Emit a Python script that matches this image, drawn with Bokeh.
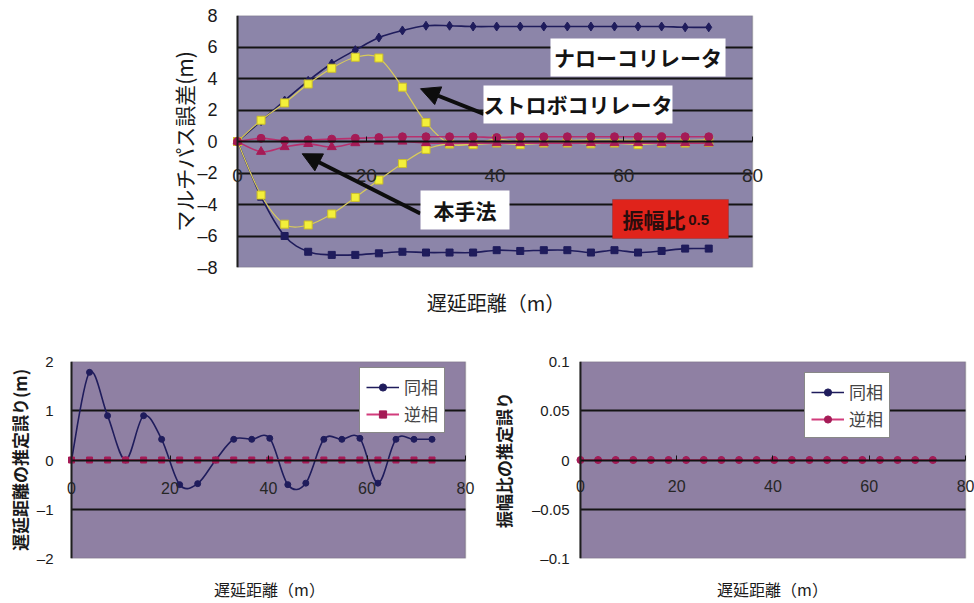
from bokeh.plotting import figure
from bokeh.models import (ColumnDataSource, FixedTicker, Arrow, NormalHead, BoxAnnotation,
                          Label, Legend, LegendItem, Spacer, Range1d, LinearAxis, Span)
from bokeh.layouts import column, row
from bokeh.embed import file_html
from bokeh.resources import INLINE

# ---- data -------------------------------------------------------------
# delay distance (m), step of 1/80 chip
delay_m = [0.0, 3.66, 7.32, 10.98, 14.64, 18.3, 21.96, 25.62, 29.28, 32.94, 36.6,
           40.26, 43.92, 47.58, 51.24, 54.9, 58.56, 62.22, 65.88, 69.54, 73.2]

# multipath error (m), amplitude ratio 0.5
narrow_pos = [0, 1.3, 2.6, 3.85, 4.95, 5.8, 6.6, 7.05, 7.35, 7.35, 7.3,
              7.3, 7.3, 7.3, 7.3, 7.3, 7.3, 7.3, 7.3, 7.25, 7.25]
narrow_neg = [0, -3.5, -6.0, -7.0, -7.2, -7.2, -7.1, -7.0, -7.05, -7.05, -7.05,
              -6.9, -6.95, -6.9, -6.9, -7.05, -6.9, -7.05, -6.95, -6.8, -6.8]
strobe_pos = [0, 1.35, 2.45, 3.65, 4.65, 5.35, 5.3, 3.45, 1.2, -0.15, -0.15,
              0.15, -0.05, 0.0, 0.05, 0.1, 0.1, 0.05, 0.0, 0.05, 0.1]
strobe_neg = [0, -3.4, -5.25, -5.3, -4.6, -3.55, -2.45, -1.4, -0.5, -0.15, -0.2,
              -0.1, -0.2, -0.1, -0.1, -0.15, -0.1, -0.2, -0.1, -0.1, -0.05]
method_pos = [0, 0.2, 0.05, 0.1, 0.15, 0.2, 0.25, 0.3, 0.3, 0.3, 0.3,
              0.25, 0.3, 0.3, 0.3, 0.3, 0.3, 0.3, 0.3, 0.3, 0.3]
method_neg = [0, -0.65, -0.35, -0.15, -0.35, -0.1, 0.0, 0.0, -0.1, -0.1, -0.1,
              -0.1, -0.1, -0.1, -0.1, -0.1, -0.1, -0.1, -0.1, -0.1, -0.1]

# estimation error of delay distance (m)
delay_err_inphase = [0, 1.78, 0.9, 0.0, 0.9, 0.42, -0.5, -0.48, 0.0, 0.42, 0.42,
                     0.44, -0.5, -0.47, 0.42, 0.42, 0.44, -0.47, 0.42, 0.42, 0.42]
delay_err_antiphase = [0] * 21

# estimation error of amplitude ratio
amp_err_inphase = [0] * 21
amp_err_antiphase = [0] * 21

top_yticks = [-8, -6, -4, -2, 0, 2, 4, 6, 8]
xticks = [0, 20, 40, 60, 80]
bl_yticks = [-2, -1, 0, 1, 2]
br_yticks = [-0.1, -0.05, 0, 0.05, 0.1]

# ---- styling ----------------------------------------------------------
TOP_BG = "#8c85a9"
BOT_BG = "#8f80a3"
NAVY = "#1f1c5c"
YELLOW = "#f3ef3a"
YELLOW_LINE = "#d9cb5a"
CRIMSON = "#a51b56"
CRIMSON_LINE = "#b8306e"
PINK_LINE = "#d23c7c"
JP = "Noto Sans CJK JP"
NUM = "Liberation Sans"
DASH = "\u2013"


def smooth_source(xs, ys):
    """Cubic Bezier segments through the points (Catmull-Rom style smoothing)."""
    n = len(xs)
    d = dict(x0=[], y0=[], x1=[], y1=[], cx0=[], cy0=[], cx1=[], cy1=[])
    for i in range(n - 1):
        xp, yp = (xs[i - 1], ys[i - 1]) if i > 0 else (xs[i], ys[i])
        xn, yn = (xs[i + 2], ys[i + 2]) if i + 2 < n else (xs[i + 1], ys[i + 1])
        d["x0"].append(xs[i]); d["y0"].append(ys[i])
        d["x1"].append(xs[i + 1]); d["y1"].append(ys[i + 1])
        d["cx0"].append(xs[i] + (xs[i + 1] - xp) / 6)
        d["cy0"].append(ys[i] + (ys[i + 1] - yp) / 6)
        d["cx1"].append(xs[i + 1] - (xn - xs[i]) / 6)
        d["cy1"].append(ys[i + 1] - (yn - ys[i]) / 6)
    return ColumnDataSource(d)


def series(p, ys, line_color, line_width, marker, size, fill, outline=None):
    lr = p.bezier(x0="x0", y0="y0", x1="x1", y1="y1", cx0="cx0", cy0="cy0",
                  cx1="cx1", cy1="cy1", source=smooth_source(delay_m, ys),
                  line_color=line_color, line_width=line_width)
    pr = p.scatter(delay_m, ys, marker=marker, size=size, fill_color=fill,
                   line_color=outline or fill, line_width=1)
    return lr, pr


def base_figure(width, height, xr, yr, bg, left, right, top, bottom, title_size, title_standoff):
    """Plot area spans x 0..80; the frame is a little wider so that the
    tick labels at 0 and 80 are not cut off."""
    p = figure(width=width, height=height, x_range=Range1d(*xr), y_range=Range1d(*yr),
               output_backend="svg", toolbar_location=None,
               min_border_left=left, min_border_right=right,
               min_border_top=top, min_border_bottom=bottom,
               background_fill_color="white", border_fill_color="white",
               outline_line_color=None)
    # shaded plot area
    p.add_layout(BoxAnnotation(left=0, right=80, top=yr[1], bottom=yr[0], fill_color=bg,
                               fill_alpha=1, line_color="#505050", line_width=1.5,
                               level="image"))
    p.xgrid.visible = False
    yg = p.ygrid[0]
    yg.grid_line_color = "#141414"
    yg.grid_line_width = 2
    if "cross_bounds" in yg.properties():
        yg.cross_bounds = (0, 80)
    else:
        # mask the grid lines outside the plot area
        for l, r in [(xr[0], 0), (80, xr[1])]:
            p.add_layout(BoxAnnotation(left=l, right=r, top=yr[1], bottom=yr[0],
                                       fill_color="white", fill_alpha=1, line_color=None,
                                       level="underlay"))
    # x axis crosses at y = 0
    xa = p.xaxis[0]
    xa.fixed_location = 0
    xa.bounds = (0, 80)
    xa.ticker = FixedTicker(ticks=xticks)
    xa.axis_line_color = "#111111"
    xa.axis_line_width = 2
    xa.major_tick_in = 5
    xa.major_tick_out = 0
    xa.major_tick_line_color = "#111111"
    xa.minor_tick_line_color = None
    xa.major_label_text_font = NUM
    xa.major_label_text_color = "#262626"
    # y axis line sits on x = 0
    p.add_layout(Span(location=0, dimension="height", line_color="#1e1e1e", line_width=2))
    ya = p.yaxis[0]
    ya.axis_line_color = None
    ya.major_tick_line_color = None
    ya.minor_tick_line_color = None
    ya.major_tick_out = 0
    ya.major_tick_in = 0
    ya.major_label_text_font = NUM
    ya.major_label_text_color = "#1a1a1a"
    ya.axis_label_text_font = JP
    ya.axis_label_text_font_style = "normal"
    ya.axis_label_text_color = "#1a1a1a"
    # x axis title below the plot area
    ta = LinearAxis(ticker=FixedTicker(ticks=[]), axis_label="遅延距離（m）",
                    axis_line_color=None, major_tick_line_color=None,
                    minor_tick_line_color=None, major_tick_out=0, major_tick_in=0,
                    major_label_standoff=0, axis_label_standoff=title_standoff,
                    axis_label_text_font=JP, axis_label_text_font_style="normal",
                    axis_label_text_font_size=title_size, axis_label_text_color="#1a1a1a")
    p.add_layout(ta, "below")
    return p


def padded(px_per_unit, left_px, right_px):
    return (-left_px / px_per_unit, 80 + right_px / px_per_unit)


# ---- top: multipath error --------------------------------------------
pt = base_figure(640, 320, padded(515 / 80, 10, 12), (-8, 8), TOP_BG, 77, 26, 15, 53,
                 "20px", 20)
pt.yaxis.ticker = FixedTicker(ticks=top_yticks)
pt.ygrid.ticker = FixedTicker(ticks=[-6, -4, -2, 2, 4, 6])
pt.yaxis.major_label_overrides = {t: (DASH + str(-t)) if t < 0 else str(t) for t in top_yticks}
pt.yaxis.major_label_text_font_size = "18px"
pt.yaxis.major_label_standoff = 10
pt.yaxis.axis_label = "マルチパス誤差(m)"
pt.yaxis.axis_label_text_font_size = "21px"
pt.yaxis.axis_label_standoff = -5
pt.xaxis[0].major_label_text_font_size = "19px"
pt.xaxis[0].major_label_standoff = 27

series(pt, narrow_pos, NAVY, 1.6, "diamond", 9, NAVY)
series(pt, narrow_neg, NAVY, 1.6, "square", 7, NAVY)
series(pt, strobe_pos, YELLOW_LINE, 1.2, "square", 8, YELLOW, "#cbbd2a")
series(pt, strobe_neg, YELLOW_LINE, 1.2, "square", 8, YELLOW, "#cbbd2a")
series(pt, method_pos, CRIMSON_LINE, 1.6, "circle", 8, CRIMSON)
series(pt, method_neg, CRIMSON_LINE, 1.6, "triangle", 9, CRIMSON)

for (x0, y0, x1, y1) in [(38.26, 1.76, 28.43, 3.35), (28.4, -4.57, 10.05, -0.78)]:
    pt.add_layout(Arrow(x_start=x0, y_start=y0, x_end=x1, y_end=y1,
                        line_color="#0d0d0d", line_width=4,
                        end=NormalHead(size=19, fill_color="#0d0d0d", line_color="#0d0d0d")))

boxes = [
    ("ナローコリレータ", 48.62, 75.81, 6.54, 4.13),
    ("ストロボコリレータ", 38.21, 67.57, 3.56, 1.14),
    ("本手法", 28.43, 42.25, -3.11, -5.59),
]
for text, l, r, t, b in boxes:
    pt.add_layout(BoxAnnotation(left=l, right=r, top=t, bottom=b, fill_color="white",
                                fill_alpha=1, line_color=None))
    pt.add_layout(Label(x=(l + r) / 2, y=(t + b) / 2, text=text, text_align="center",
                        text_baseline="middle", text_font=JP, text_font_size="21px",
                        text_font_style="bold", text_color="#141414"))

pt.add_layout(BoxAnnotation(left=58.25, right=76.27, top=-3.68, bottom=-6.16,
                            fill_color="#e0231b", fill_alpha=1, line_color="#7a2020",
                            line_width=1))
pt.add_layout(Label(x=59.8, y=-4.92, text="振幅比", text_align="left", text_baseline="middle",
                    text_font=JP, text_font_size="21px", text_font_style="bold",
                    text_color="#2a0d0d"))
pt.add_layout(Label(x=70.0, y=-4.98, text="0.5", text_align="left", text_baseline="middle",
                    text_font=NUM, text_font_size="15px", text_font_style="bold",
                    text_color="#2a0d0d"))


# ---- bottom left: delay distance estimation error ---------------------
pl = base_figure(487, 283, padded(394 / 80, 10, 12), (-2, 2), BOT_BG, 61, 10, 41, 40,
                 "16px", 18)
pl.yaxis.ticker = FixedTicker(ticks=bl_yticks)
pl.ygrid.ticker = FixedTicker(ticks=[-1, 1])
pl.yaxis.major_label_overrides = {t: (DASH + str(-t)) if t < 0 else str(t) for t in bl_yticks}
pl.yaxis.major_label_text_font_size = "15px"
pl.yaxis.major_label_standoff = 8
pl.yaxis.axis_label = "遅延距離の推定誤り(m)"
pl.yaxis.axis_label_text_font_size = "17px"
pl.yaxis.axis_label_text_font_style = "bold"
pl.yaxis.axis_label_standoff = 2
pl.xaxis[0].major_label_text_font_size = "16px"
pl.xaxis[0].major_label_standoff = 22

l1, s1 = series(pl, delay_err_inphase, NAVY, 1.6, "circle", 6, NAVY)
l2, s2 = series(pl, delay_err_antiphase, PINK_LINE, 1.8, "square", 6, CRIMSON)


# ---- bottom right: amplitude ratio estimation error -------------------
pr = base_figure(487, 283, padded(387 / 80, 10, 9), (-0.1, 0.1), BOT_BG, 81, 0, 35, 40,
                 "16px", 18)
pr.yaxis.ticker = FixedTicker(ticks=br_yticks)
pr.ygrid.ticker = FixedTicker(ticks=[-0.05, 0.05])
pr.yaxis.major_label_overrides = {-0.1: DASH + "0.1", -0.05: DASH + "0.05", 0: "0",
                                  0.05: "0.05", 0.1: "0.1"}
pr.yaxis.major_label_text_font_size = "15px"
pr.yaxis.major_label_standoff = 1
pr.yaxis.axis_label = "振幅比の推定誤り"
pr.yaxis.axis_label_text_font_size = "17px"
pr.yaxis.axis_label_text_font_style = "bold"
pr.yaxis.axis_label_standoff = 13
pr.xaxis[0].major_label_text_font_size = "16px"
pr.xaxis[0].major_label_standoff = 20

l3, s3 = series(pr, amp_err_inphase, NAVY, 1.6, "circle", 6, NAVY)
l4, s4 = series(pr, amp_err_antiphase, PINK_LINE, 1.8, "circle", 7, CRIMSON)

for p, (a, b), loc in [(pl, ((l1, s1), (l2, s2)), (298, 125)),
                       (pr, ((l3, s3), (l4, s4)), (234, 120))]:
    leg = Legend(items=[LegendItem(label="同相", renderers=list(a)),
                        LegendItem(label="逆相", renderers=list(b))],
                 location=loc, orientation="vertical",
                 background_fill_color="white", background_fill_alpha=1,
                 border_line_color="#111111", border_line_width=1.5,
                 label_text_font=JP, label_text_font_size="17px",
                 glyph_width=33, glyph_height=18, label_standoff=5,
                 spacing=2, padding=6, margin=0)
    p.add_layout(leg)

layout = column(row(Spacer(width=150, height=320), pt), row(pl, pr))
open("out.html", "w").write(file_html(layout, INLINE))
